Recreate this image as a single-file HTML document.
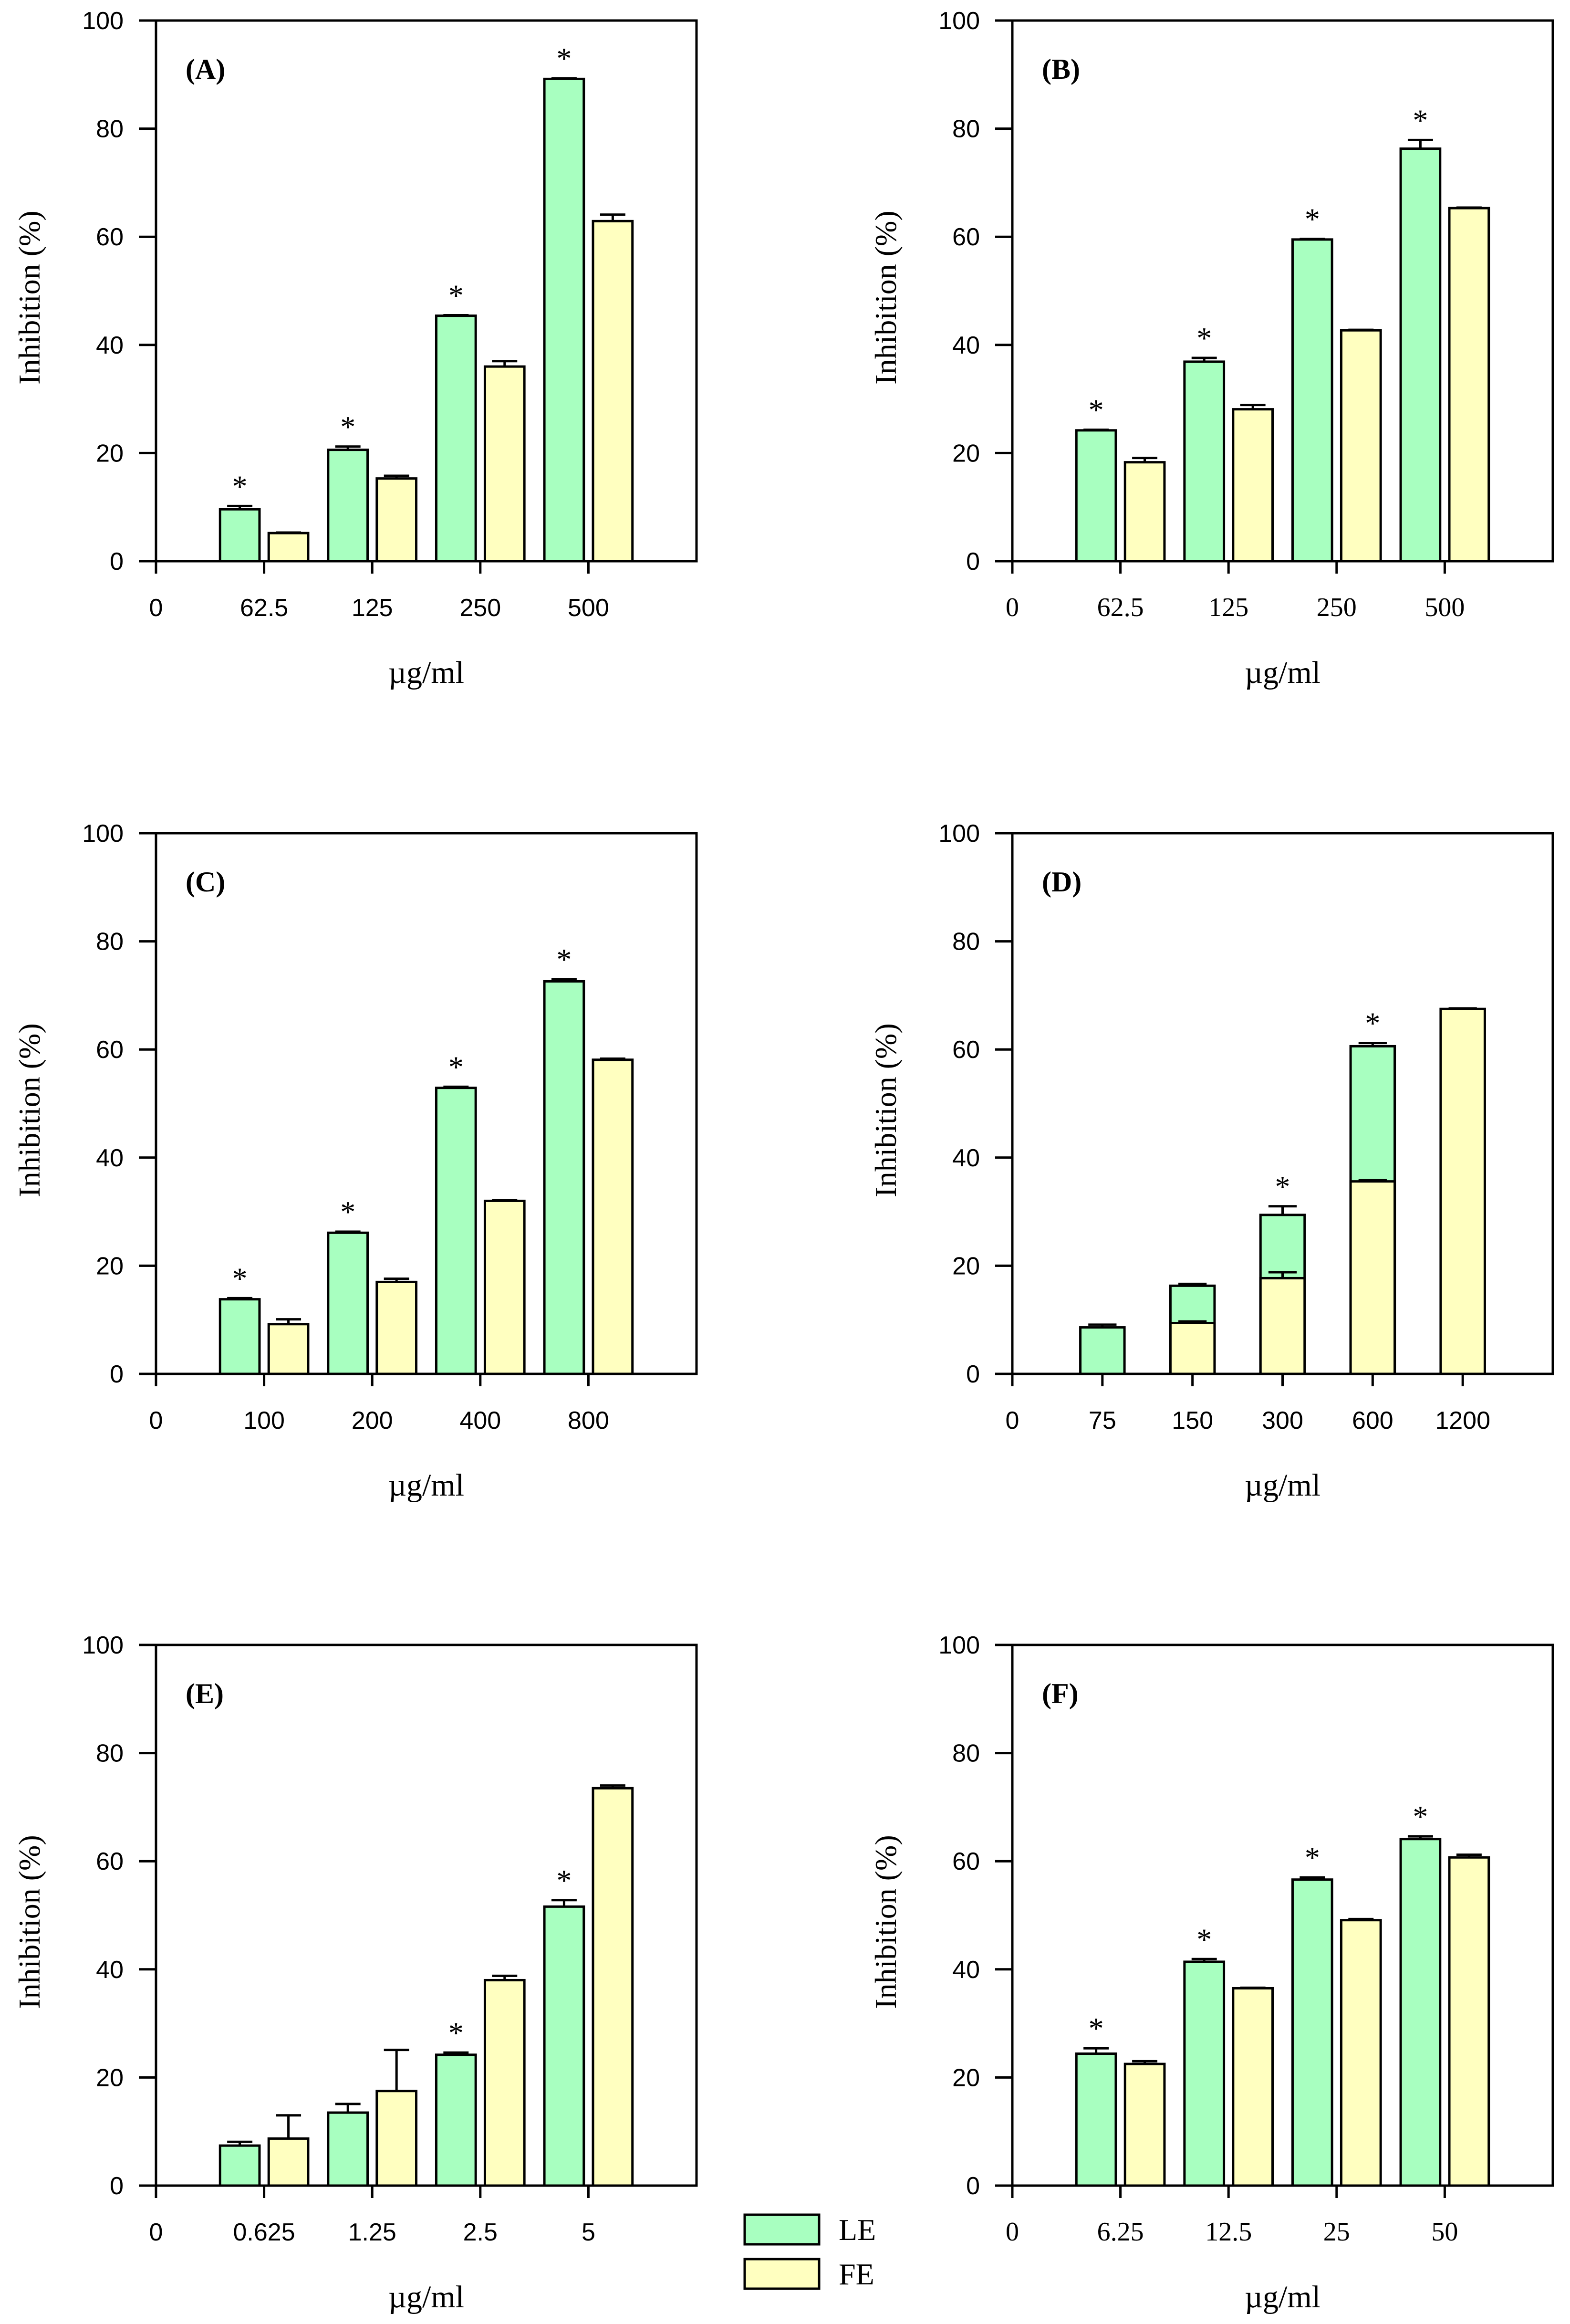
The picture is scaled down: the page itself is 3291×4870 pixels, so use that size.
<!DOCTYPE html>
<html><head><meta charset="utf-8"><style>
html,body{margin:0;padding:0;background:#fff;}
svg{display:block;}
</style></head>
<body>
<svg id="fig" width="3291" height="4870" viewBox="0 0 3291 4870" xmlns="http://www.w3.org/2000/svg"></svg>
<script>
// ---- data ----
const catsA = ["62.5","125","250","500"];
const leA = [9.6, 20.6, 45.4, 89.2];
const leErrA = [0.6, 0.6, 0.1, 0.1];
const feA = [5.2, 15.3, 36.0, 62.9];
const feErrA = [0.1, 0.5, 1.0, 1.2];
const starA = [true, true, true, true];

const catsB = ["62.5","125","250","500"];
const leB = [24.2, 36.9, 59.5, 76.3];
const leErrB = [0.1, 0.7, 0.1, 1.6];
const feB = [18.3, 28.1, 42.7, 65.3];
const feErrB = [0.8, 0.8, 0.1, 0.1];
const starB = [true, true, true, true];

const catsC = ["100","200","400","800"];
const leC = [13.8, 26.1, 52.9, 72.6];
const leErrC = [0.2, 0.2, 0.2, 0.4];
const feC = [9.2, 17.0, 32.0, 58.1];
const feErrC = [0.9, 0.6, 0.1, 0.2];
const starC = [true, true, true, true];

const catsD = ["75","150","300","600","1200"];
const leD = [8.6, 16.3, 29.4, 60.6, 0];
const leErrD = [0.5, 0.35, 1.6, 0.6, 0];
const feD = [0, 9.4, 17.7, 35.6, 67.5];
const feErrD = [0, 0.3, 1.1, 0.2, 0.1];
const starD = [false, false, true, true, false];

const catsE = ["0.625","1.25","2.5","5"];
const leE = [7.4, 13.5, 24.2, 51.6];
const leErrE = [0.7, 1.6, 0.4, 1.2];
const feE = [8.7, 17.5, 38.0, 73.5];
const feErrE = [4.3, 7.6, 0.8, 0.5];
const starE = [false, false, true, true];

const catsF = ["6.25","12.5","25","50"];
const leF = [24.4, 41.4, 56.6, 64.1];
const leErrF = [1.0, 0.5, 0.4, 0.5];
const feF = [22.5, 36.5, 49.1, 60.7];
const feErrF = [0.5, 0.1, 0.2, 0.5];
const starF = [true, true, true, true];

const yTicks = [0,20,40,60,80,100];

// ---- drawing ----
const NS = "http://www.w3.org/2000/svg";
const svg = document.getElementById("fig");
const GREEN = "#a8ffc0", YELLOW = "#ffffc0";
const SANS = '"Liberation Sans", Arial, sans-serif';
const SERIF = '"Liberation Serif", "Times New Roman", serif';

function mk(tag, attrs, parent) {
  const e = document.createElementNS(NS, tag);
  for (const k in attrs) e.setAttribute(k, attrs[k]);
  (parent || svg).appendChild(e);
  return e;
}

function panel(opt) {
  const g = mk("g", {});
  
  
  const L = opt.left, T = opt.top, W = 1133, H = 1133, B = T + H;
  const n = opt.cats.length + 1;
  const xs = i => L + (i) * W / n;
  const ys = v => B - v / 100 * H;
  const step = W / n;

  const fr = mk("rect", {x:L, y:T, width:W, height:H, fill:"none", stroke:"#000", "stroke-width":5}, g);
  
  

  yTicks.forEach(v => {
    const y = ys(v);
    const t = mk("line", {x1:L-36, x2:L, y1:y, y2:y, stroke:"#000", "stroke-width":5}, g);
    
    
    const lb = mk("text", {x:L-68, y:y+18, "text-anchor":"end", "font-family":SANS, "font-size":52}, g);
    lb.textContent = v;
    
    
  });

  const xl = ["0"].concat(opt.cats);
  xl.forEach((c, i) => {
    const x = xs(i);
    const t = mk("line", {x1:x, x2:x, y1:B, y2:B+26, stroke:"#000", "stroke-width":5}, g);
    
    
    const lb = mk("text", {x:x, y:B+115, "text-anchor":"middle", "font-family":opt.serifX ? SERIF : SANS, "font-size":opt.serifX ? 56 : 52}, g);
    lb.textContent = c;
    
    
  });

  function bar(cx, w, v, err, fill, name) {
    if (v <= 0) return;
    const top = ys(v);
    if (err > 0) {
      const et = ys(v + err);
      const l = mk("line", {x1:cx, x2:cx, y1:top, y2:et, stroke:"#000", "stroke-width":5}, g);
      
      
    }
    const ec = ys(v + err);
    const cap = mk("line", {x1:cx-w*0.32, x2:cx+w*0.32, y1:ec, y2:ec, stroke:"#000", "stroke-width":5}, g);
    
    
    const r = mk("rect", {x:cx-w/2, y:top, width:w, height:B-top, fill:fill, stroke:"#000", "stroke-width":5}, g);
    
    
  }
  function star(cx, v) {
    const s = mk("text", {x:cx, y:ys(v) - 20, "text-anchor":"middle", "font-family":SERIF, "font-size":64}, g);
    s.textContent = "*";
    
    
  }

  opt.cats.forEach((c, k) => {
    const i = k + 1;
    if (opt.overlap) {
      const w = step * 0.49;
      const cx = xs(i);
      bar(cx, w, opt.le[k], opt.leErr[k], GREEN, 'bar-le-' + c);
      bar(cx, w, opt.fe[k], opt.feErr[k], YELLOW, 'bar-fe-' + c);
      if (opt.star[k]) star(cx, opt.le[k] + opt.leErr[k]);
    } else {
      const w = step * 0.365, off = step * 0.225;
      bar(xs(i) - off, w, opt.le[k], opt.leErr[k], GREEN, 'bar-le-' + c);
      bar(xs(i) + off, w, opt.fe[k], opt.feErr[k], YELLOW, 'bar-fe-' + c);
      if (opt.star[k]) star(xs(i) - off, opt.le[k] + opt.leErr[k]);
    }
  });

  const pl = mk("text", {x:L+62, y:T+122, "font-family":SERIF, "font-weight":"bold", "font-size":60}, g);
  pl.textContent = "(" + opt.id + ")";
  
  

  const yt = mk("text", {x:0, y:0, "text-anchor":"middle", "font-family":SERIF, "font-size":64,
    transform:"translate(" + (L-244) + "," + (T+H/2+14) + ") rotate(-90)"}, g);
  yt.textContent = "Inhibition (%)";
  
  
  const xt = mk("text", {x:L+W/2, y:B+255, "text-anchor":"middle", "font-family":SERIF, "font-size":66}, g);
  xt.textContent = "\u00b5g/ml";
  
  
}

panel({id:"A", left:327, top:43, cats:catsA, le:leA, leErr:leErrA, fe:feA, feErr:feErrA, star:starA});
panel({id:"B", left:2122, top:43, cats:catsB, le:leB, leErr:leErrB, fe:feB, feErr:feErrB, star:starB, serifX:true});
panel({id:"C", left:327, top:1746, cats:catsC, le:leC, leErr:leErrC, fe:feC, feErr:feErrC, star:starC});
panel({id:"D", left:2122, top:1746, cats:catsD, le:leD, leErr:leErrD, fe:feD, feErr:feErrD, star:starD, overlap:true});
panel({id:"E", left:327, top:3447, cats:catsE, le:leE, leErr:leErrE, fe:feE, feErr:feErrE, star:starE});
panel({id:"F", left:2122, top:3447, cats:catsF, le:leF, leErr:leErrF, fe:feF, feErr:feErrF, star:starF, serifX:true});

// legend
const lg = mk("g", {});


const r1 = mk("rect", {x:1561, y:4641, width:156, height:62, fill:GREEN, stroke:"#000", "stroke-width":5}, lg);


const t1 = mk("text", {x:1758, y:4694, "font-family":SERIF, "font-size":64}, lg);
t1.textContent = "LE";


const r2 = mk("rect", {x:1561, y:4734, width:156, height:62, fill:YELLOW, stroke:"#000", "stroke-width":5}, lg);


const t2 = mk("text", {x:1758, y:4787, "font-family":SERIF, "font-size":64}, lg);
t2.textContent = "FE";


</script>
</body></html>
